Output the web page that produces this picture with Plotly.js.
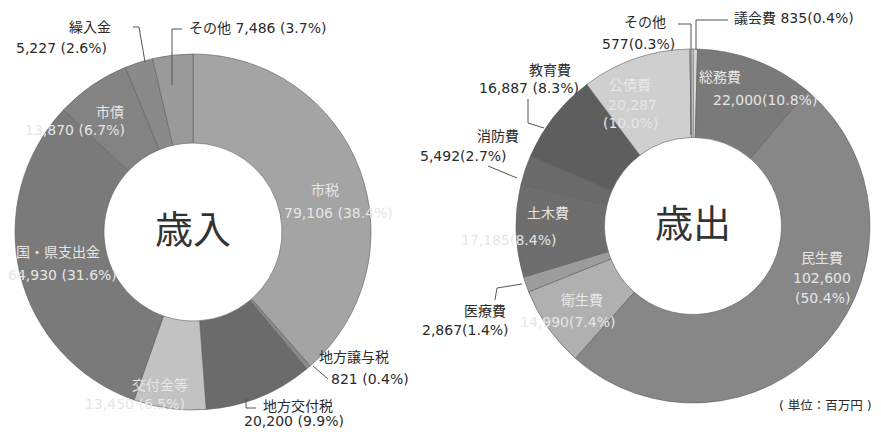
<!DOCTYPE html>
<html>
<head>
<meta charset="utf-8">
<script src="https://cdn.plot.ly/plotly-3.0.1.min.js"></script>
<style>html,body{margin:0;padding:0;background:#fff;}#chart{width:881px;height:432px;}</style>
</head>
<body>
<div id="chart"></div>
<script>
// ---- 歳入 (revenue), 単位: 百万円 ----
const revLabels = ['市税', '地方譲与税', '地方交付税', '交付金等', '国・県支出金', '市債', '繰入金', 'その他'];
const revValues = [79106, 821, 20200, 13450, 64930, 13870, 5227, 7486];
const revPct    = ['38.4', '0.4', '9.9', '6.5', '31.6', '6.7', '2.6', '3.7'];
const revColors = ['#a4a4a4', '#8a8a8a', '#6b6b6b', '#c2c2c2', '#7a7a7a', '#838383', '#8a8a8a', '#9a9a9a'];

// ---- 歳出 (expenditure) ----
const expLabels = ['議会費', '総務費', '民生費', '衛生費', '医療費', '土木費', '消防費', '教育費', '公債費', 'その他'];
const expValues = [835, 22000, 102600, 14990, 2867, 17185, 5492, 16887, 20287, 577];
const expPct    = ['0.4', '10.8', '50.4', '7.4', '1.4', '8.4', '2.7', '8.3', '10.0', '0.3'];
const expColors = ['#d8d8d8', '#7a7a7a', '#878787', '#b0b0b0', '#9c9c9c', '#6e6e6e', '#6a6a6a', '#5e5e5e', '#cfcfcf', '#e0e0e0'];

const W = 881, H = 432;
const X = px => px / W;
const Y = py => 1 - py / H;
const fmt = v => v.toLocaleString('en-US');
const CJK = '"Noto Sans CJK JP", "Noto Sans", sans-serif';
const FONT = '"DejaVu Sans", "Noto Sans CJK JP", sans-serif';

function pie(labels, values, colors, title, dom) {
  return {
    type: 'pie', labels: labels, values: values, sort: false,
    direction: 'clockwise', rotation: 0, hole: 0.5,
    marker: {colors: colors, line: {color: '#5e5e5e', width: 0.6}},
    textinfo: 'none', hoverinfo: 'label+value', showlegend: false,
    domain: dom,
    title: {text: title, position: 'middle center', font: {family: CJK, size: 38, color: '#333'}}
  };
}

const data = [
  pie(revLabels, revValues, revColors, '歳入', {x: [X(15), X(371)], y: [Y(410), Y(54)]}),
  pie(expLabels, expValues, expColors, '歳出', {x: [X(516), X(870)], y: [Y(403), Y(49)]})
];

const annotations = [];
function lbl(text, xpx, ypx, opt) {
  opt = opt || {};
  annotations.push({
    xref: 'paper', yref: 'paper', x: X(xpx), y: Y(ypx), text: text, showarrow: false,
    xanchor: opt.xa || 'center', yanchor: 'middle', borderpad: 0,
    font: {family: FONT, size: opt.size || 14, color: opt.color || '#2a2a2a'}
  });
}
const IN = {size: 14, color: '#e6e6e6'};
const r = i => fmt(revValues[i]) + ' (' + revPct[i] + '%)';
const e = i => fmt(expValues[i]) + '(' + expPct[i] + '%)';

// revenue outside labels
lbl(revLabels[6], 112, 27, {xa: 'right'});
lbl(r(6), 15, 48, {xa: 'left'});
lbl(revLabels[7] + ' ' + r(7), 188, 28, {xa: 'left'});
lbl(revLabels[1], 318, 357, {xa: 'left'});
lbl(r(1), 330, 379, {xa: 'left'});
lbl(revLabels[2], 262, 406, {xa: 'left'});
lbl(r(2), 243, 421, {xa: 'left'});
// revenue inside labels
lbl(revLabels[0], 325, 190, IN); lbl(r(0), 338, 213, IN);
lbl(revLabels[4], 58, 252, IN);  lbl(r(4), 62, 275, IN);
lbl(revLabels[3], 160, 385, IN); lbl(r(3), 135, 404, IN);
lbl(revLabels[5], 110, 112, IN); lbl(r(5), 75, 130, IN);

// expenditure outside labels
lbl(expLabels[9], 645, 22);
lbl(e(9), 638, 44);
lbl(expLabels[0] + ' ' + e(0), 733, 18, {xa: 'left'});
lbl(expLabels[7], 572, 70, {xa: 'right'});
lbl(fmt(expValues[7]) + ' (' + expPct[7] + '%)', 580, 88, {xa: 'right'});
lbl(expLabels[6], 520, 136, {xa: 'right'});
lbl(e(6), 508, 156, {xa: 'right'});
lbl(expLabels[4], 507, 311, {xa: 'right'});
lbl(e(4), 510, 330, {xa: 'right'});
lbl('( 単位：百万円 )', 825, 405, {size: 12.5});
// expenditure inside labels
lbl(expLabels[1], 720, 77, IN);  lbl(e(1), 765, 100, IN);
lbl(expLabels[2], 822, 258, IN); lbl(fmt(expValues[2]), 822, 278, IN); lbl('(' + expPct[2] + '%)', 822, 298, IN);
lbl(expLabels[3], 582, 300, IN); lbl(e(3), 567, 322, IN);
lbl(expLabels[5], 548, 213, IN); lbl(e(5), 508, 240, IN);
lbl(expLabels[8], 630, 85, IN);  lbl(fmt(expValues[8]), 632, 105, IN); lbl('(' + expPct[8] + '%)', 630, 123, IN);

// leader lines
const leaders = [
  [[133,27],[139,27],[145,62]],
  [[182,29],[172,29],[172,85]],
  [[328,379],[313,366]],
  [[256,408],[246,408],[246,398]],
  [[678,24],[691,24],[691,135]],
  [[728,20],[696,20],[696,50]],
  [[528,99],[528,123],[544,128]],
  [[488,166],[517,178]],
  [[495,300],[497,288],[522,284]]
];
const shapes = leaders.map(pts => ({
  type: 'path', xref: 'paper', yref: 'paper',
  path: pts.map((p, i) => (i ? 'L' : 'M') + X(p[0]) + ',' + Y(p[1])).join(' '),
  line: {color: '#555', width: 1}
}));

const layout = {
  width: W, height: H, margin: {l: 0, r: 0, t: 0, b: 0},
  paper_bgcolor: '#ffffff', plot_bgcolor: '#ffffff',
  showlegend: false, annotations: annotations, shapes: shapes,
  font: {family: FONT}
};
Plotly.newPlot('chart', data, layout, {displayModeBar: false, staticPlot: true});
</script>
</body>
</html>
